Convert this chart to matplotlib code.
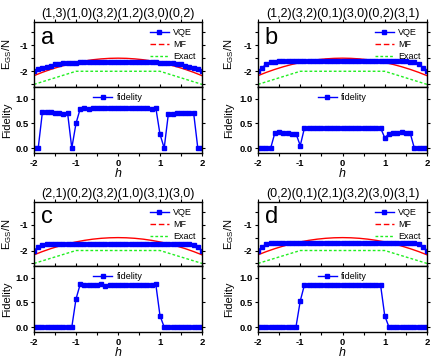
import matplotlib
matplotlib.use("Agg")
import matplotlib.pyplot as plt
from matplotlib.lines import Line2D
from matplotlib.ticker import MultipleLocator

plt.rcParams['font.family'] = ['Liberation Sans', 'DejaVu Sans']
plt.rcParams['mathtext.fontset'] = 'custom'
plt.rcParams['mathtext.rm'] = 'Liberation Sans'
plt.rcParams['mathtext.it'] = 'Liberation Sans:italic'
plt.rcParams['axes.unicode_minus'] = False

h = [-2.0, -1.9, -1.8, -1.7, -1.6, -1.5, -1.4, -1.3, -1.2, -1.1, -1.0,
     -0.9, -0.8, -0.7, -0.6, -0.5, -0.4, -0.3, -0.2, -0.1, 0.0,
     0.1, 0.2, 0.3, 0.4, 0.5, 0.6, 0.7, 0.8, 0.9, 1.0,
     1.1, 1.2, 1.3, 1.4, 1.5, 1.6, 1.7, 1.8, 1.9, 2.0]

titles = ["(1,3)(1,0)(3,2)(1,2)(3,0)(0,2)",
          "(1,2)(3,2)(0,1)(3,0)(0,2)(3,1)",
          "(2,1)(0,2)(3,2)(1,0)(3,1)(3,0)",
          "(0,2)(0,1)(2,1)(3,2)(3,0)(3,1)"]
letters = ["a", "b", "c", "d"]

vqe_a = [-2.00, -1.92, -1.87, -1.82, -1.78, -1.74, -1.71, -1.70, -1.69, -1.68, -1.67,
         -1.66, -1.66, -1.66, -1.66, -1.66, -1.66, -1.66, -1.66, -1.66, -1.66,
         -1.66, -1.66, -1.66, -1.66, -1.66, -1.66, -1.66, -1.66, -1.66, -1.67,
         -1.68, -1.69, -1.70, -1.71, -1.74, -1.78, -1.82, -1.87, -1.92, -2.00]
vqe_b = [-2.00, -1.86, -1.72, -1.65, -1.63, -1.62, -1.62, -1.61, -1.61, -1.60, -1.60,
         -1.60, -1.60, -1.59, -1.59, -1.59, -1.59, -1.59, -1.59, -1.59, -1.59,
         -1.59, -1.59, -1.59, -1.59, -1.59, -1.59, -1.59, -1.60, -1.60, -1.60,
         -1.60, -1.61, -1.61, -1.62, -1.62, -1.63, -1.65, -1.72, -1.86, -2.00]
vqe_c = [-2.00, -1.86, -1.78, -1.74, -1.74, -1.74, -1.74, -1.74, -1.74, -1.74, -1.74,
         -1.74, -1.74, -1.74, -1.74, -1.74, -1.74, -1.74, -1.74, -1.74, -1.74,
         -1.74, -1.74, -1.74, -1.74, -1.74, -1.74, -1.74, -1.74, -1.74, -1.74,
         -1.74, -1.74, -1.74, -1.74, -1.74, -1.74, -1.74, -1.78, -1.86, -2.00]
vqe_d = [-2.00, -1.85, -1.75, -1.72, -1.72, -1.72, -1.72, -1.72, -1.72, -1.72, -1.72,
         -1.72, -1.72, -1.72, -1.72, -1.72, -1.72, -1.72, -1.72, -1.72, -1.72,
         -1.72, -1.72, -1.72, -1.72, -1.72, -1.72, -1.72, -1.72, -1.72, -1.72,
         -1.72, -1.72, -1.72, -1.72, -1.72, -1.72, -1.72, -1.75, -1.85, -2.00]

h_mf = [-2.0, -1.8, -1.6, -1.4, -1.2, -1.0, -0.8, -0.6, -0.4, -0.2, 0.0,
        0.2, 0.4, 0.6, 0.8, 1.0, 1.2, 1.4, 1.6, 1.8, 2.0]
mf = [-2.167, -2.04, -1.927, -1.827, -1.74, -1.667, -1.607, -1.56, -1.527, -1.507, -1.50,
      -1.507, -1.527, -1.56, -1.607, -1.667, -1.74, -1.827, -1.927, -2.04, -2.167]

h_exact = [-2.0, -1.0, 1.0, 2.0]
exact = [-2.5, -2.0, -2.0, -2.5]

fid_a = [0.0, 0.0, 0.73, 0.73, 0.73, 0.72, 0.71, 0.70, 0.71, 0.0, 0.50,
         0.80, 0.81, 0.80, 0.82, 0.82, 0.82, 0.82, 0.82, 0.82, 0.82,
         0.82, 0.82, 0.82, 0.82, 0.82, 0.81, 0.81, 0.80, 0.82, 0.28,
         0.0, 0.70, 0.70, 0.71, 0.72, 0.72, 0.72, 0.72, 0.0, 0.0]
fid_b = [0.0, 0.0, 0.0, 0.0, 0.31, 0.32, 0.30, 0.30, 0.29, 0.29, 0.05,
         0.41, 0.41, 0.41, 0.41, 0.41, 0.41, 0.41, 0.41, 0.41, 0.41,
         0.41, 0.41, 0.41, 0.41, 0.41, 0.41, 0.41, 0.41, 0.41, 0.21,
         0.29, 0.30, 0.31, 0.32, 0.31, 0.31, 0.0, 0.0, 0.0, 0.0]
fid_c = [0.0, 0.0, 0.0, 0.0, 0.0, 0.0, 0.0, 0.0, 0.0, 0.0, 0.57,
         0.87, 0.85, 0.86, 0.86, 0.86, 0.87, 0.84, 0.86, 0.86, 0.86,
         0.86, 0.86, 0.86, 0.86, 0.86, 0.86, 0.86, 0.86, 0.87, 0.23,
         0.0, 0.0, 0.0, 0.0, 0.01, 0.01, 0.0, 0.0, 0.0, 0.0]
fid_d = [0.0, 0.0, 0.0, 0.0, 0.0, 0.0, 0.0, 0.0, 0.0, 0.01, 0.53,
         0.86, 0.86, 0.86, 0.86, 0.86, 0.86, 0.86, 0.86, 0.86, 0.86,
         0.86, 0.86, 0.86, 0.86, 0.86, 0.86, 0.86, 0.86, 0.86, 0.23,
         0.0, 0.01, 0.01, 0.0, 0.01, 0.0, 0.0, 0.0, 0.0, 0.0]

vqes = [vqe_a, vqe_b, vqe_c, vqe_d]
fids = [fid_a, fid_b, fid_c, fid_d]

W, H = 436, 359
fig = plt.figure(figsize=(W / 100, H / 100), dpi=100)

lefts = [34, 258]
widths = [168, 169]
rows = [(22, 87, 153), (202, 266, 332)]

BLUE = '#0000ff'
RED = '#ff0000'
GREEN = '#22ee22'
MS = 2.2


def style(ax):
    ax.tick_params(which='both', direction='out', top=True, right=True,
                   labelsize=6.8, length=2.5, width=0.8, pad=1.5)
    for lab in ax.get_xticklabels() + ax.get_yticklabels():
        lab.set_fontweight('bold')
    for s in ax.spines.values():
        s.set_linewidth(1.0)
    ax.set_xlim(-2, 2)
    ax.xaxis.set_major_locator(MultipleLocator(1))
    ax.xaxis.set_minor_locator(MultipleLocator(0.5))


for i in range(4):
    col = i % 2
    row = i // 2
    x0 = lefts[col] / W
    w = widths[col] / W
    t, m, b = rows[row]
    ax1 = fig.add_axes([x0, 1 - m / H, w, (m - t) / H])
    ax2 = fig.add_axes([x0, 1 - b / H, w, (b - m) / H])

    ax1.plot(h_mf, mf, color=RED, lw=1.0)
    ax1.plot(h_exact, exact, color=GREEN, lw=1.0, linestyle=(0, (2, 1.5)))
    ax1.plot(h, vqes[i], color=BLUE, lw=1.0, marker='s', ms=MS, mec=BLUE, mfc=BLUE)
    ax1.set_ylim(-2.6, -0.12)
    ax1.yaxis.set_major_locator(MultipleLocator(1))
    ax1.yaxis.set_minor_locator(MultipleLocator(0.5))
    style(ax1)
    ax1.set_xticklabels([])
    ax1.set_ylabel(r'E$_{\rm GS}$/N', fontsize=8, labelpad=4 + 2 * col)
    ax1.set_title(titles[i], fontsize=9, pad=3.5)
    ax1.text(0.04, 0.93, letters[i], transform=ax1.transAxes, fontsize=17,
             va='top', ha='left')
    handles = [Line2D([], [], color=BLUE, lw=1.0, marker='s', ms=MS),
               Line2D([], [], color=RED, lw=1.0, linestyle=(0, (4, 2))),
               Line2D([], [], color=GREEN, lw=1.0, linestyle=(0, (2, 1.5)))]
    ax1.legend(handles, ['VQE', 'MF', 'Exact'], loc='upper right', frameon=False,
               fontsize=6.5, handlelength=2.1, handletextpad=0.5,
               labelspacing=0.3, borderaxespad=0.3)

    ax2.plot(h, fids[i], color=BLUE, lw=1.0, marker='s', ms=MS, mec=BLUE, mfc=BLUE)
    ax2.set_ylim(-0.1, 1.24)
    ax2.yaxis.set_major_locator(MultipleLocator(0.5))
    style(ax2)
    ax2.set_ylabel('Fidelity', fontsize=8, labelpad=2 + 2 * col)
    ax2.set_xlabel('h', fontsize=9, style='italic', labelpad=0)
    ax2.legend(['fidelity'], loc='upper center', frameon=False, fontsize=6.5,
               handlelength=2.1, handletextpad=0.5, borderaxespad=0.3)

fig.savefig('out.png', dpi=100)
